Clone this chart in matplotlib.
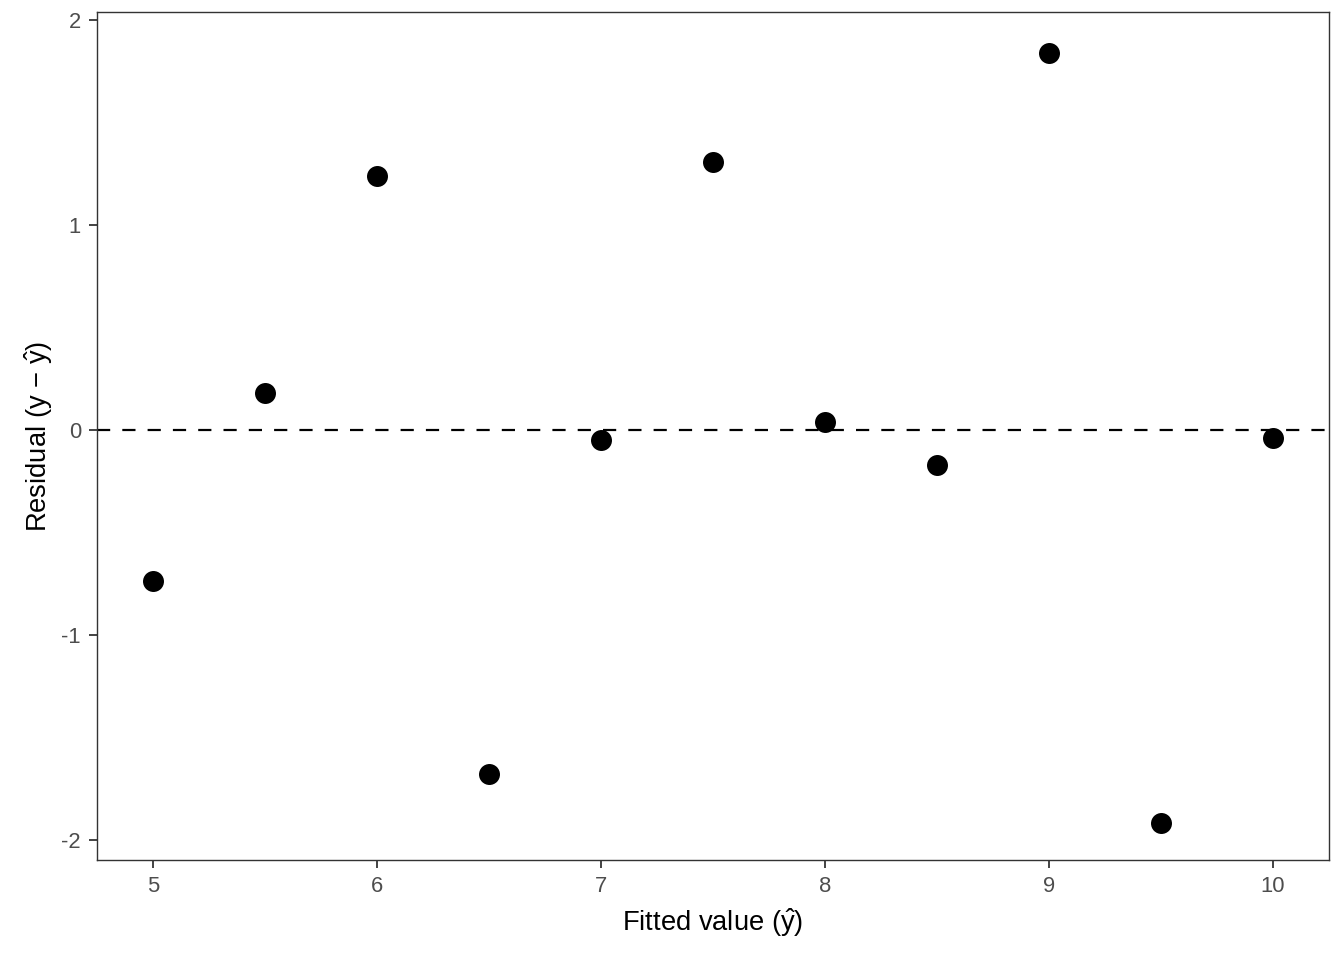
import matplotlib
matplotlib.use("Agg")
import matplotlib.pyplot as plt

plt.rcParams['font.family'] = ['Liberation Sans', 'DejaVu Sans']
plt.rcParams['mathtext.fontset'] = 'custom'
plt.rcParams['mathtext.rm'] = 'Liberation Sans'
plt.rcParams['mathtext.it'] = 'Liberation Sans'

fitted = [5.0, 5.5, 6.0, 6.5, 7.0, 7.5, 8.0, 8.5, 9.0, 9.5, 10.0]
residual = [-0.737, 0.181, 1.240, -1.680, -0.049, 1.309, 0.039, -0.171, 1.841, -1.919, -0.039]
xticks = [5, 6, 7, 8, 9, 10]
yticks = [-2, -1, 0, 1, 2]

fig = plt.figure(figsize=(1344 / 144, 960 / 144), dpi=144)
ax = fig.add_axes([97 / 1344, 1 - 860 / 960, (1329 - 97) / 1344, (860 - 12) / 960])

ax.axhline(0, color='black', linestyle=(0, (6, 5.5)), linewidth=1.1, zorder=1)
ax.scatter(fitted, residual, s=110, color='black', zorder=2, linewidths=0)

ax.set_xlim(4.75, 10.25)
ax.set_ylim(-2.1, 2.04)
ax.set_xticks(xticks)
ax.set_yticks(yticks)
ax.set_xticklabels([str(t) for t in xticks])
ax.set_yticklabels([str(t) for t in yticks])

for sp in ax.spines.values():
    sp.set_color('#333333')
    sp.set_linewidth(0.7)
ax.tick_params(colors='#333333', length=4, width=0.9, labelsize=11, labelcolor='#4D4D4D', pad=4)

ax.set_xlabel(r'Fitted value ($\hat{y}$)', fontsize=13.7, labelpad=5)
ax.set_ylabel(r'Residual (y $-$ $\hat{y}$)', fontsize=13.7, labelpad=3)

fig.savefig('out.png', dpi=144)
